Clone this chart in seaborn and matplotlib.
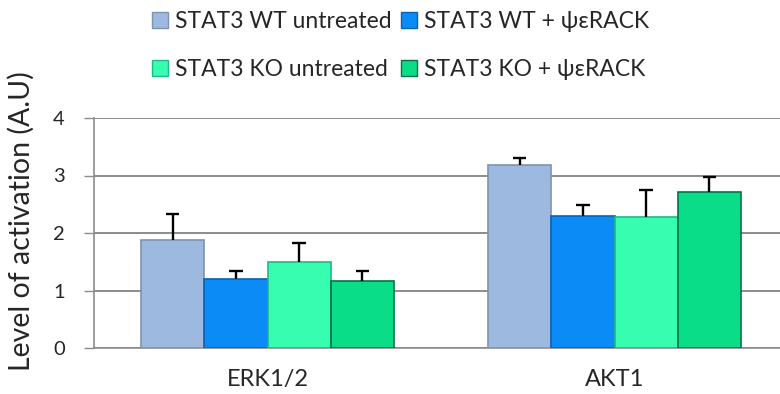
import matplotlib
matplotlib.use("Agg")
import matplotlib.pyplot as plt
import seaborn as sns
import pandas as pd
import numpy as np
from matplotlib.lines import Line2D

# Data
targets = ["ERK1/2", "AKT1"]
conditions = ["STAT3 WT untreated", "STAT3 WT + ψεRACK",
              "STAT3 KO untreated", "STAT3 KO + ψεRACK"]
erk_mean = [1.88, 1.20, 1.50, 1.17]
erk_err = [0.45, 0.14, 0.33, 0.17]
akt_mean = [3.18, 2.29, 2.27, 2.72]
akt_err = [0.12, 0.20, 0.47, 0.25]
yticks = [0, 1, 2, 3, 4]

colors = ["#9DB9E0", "#0A8BF6", "#36FDB0", "#0ADD87"]
edges = ["#7F93AE", "#0A63B0", "#22B886", "#06704A"]

rows = []
for i, c in enumerate(conditions):
    rows.append({"target": targets[0], "condition": c, "value": erk_mean[i], "err": erk_err[i]})
    rows.append({"target": targets[1], "condition": c, "value": akt_mean[i], "err": akt_err[i]})
df = pd.DataFrame(rows)

sns.set_style("white")
plt.rcParams["font.family"] = ["Lato", "DejaVu Sans"]

fig = plt.figure(figsize=(7.8, 3.94), dpi=100)
ax = fig.add_axes([94 / 780, 46 / 394, 694 / 780, 230 / 394])

sns.barplot(data=df, x="target", y="value", hue="condition", order=targets,
            hue_order=conditions, palette=colors, width=0.727, errorbar=None,
            legend=False, ax=ax, zorder=3, saturation=1)

# color edges per series and add upward-only error bars (stem + top cap)
cap_half = 0.019
bar_sets = list(ax.containers)
for k, cont in enumerate(bar_sets):
    for j, patch in enumerate(cont.patches):
        patch.set_edgecolor(edges[k])
        patch.set_linewidth(1.2)
        xc = patch.get_x() + patch.get_width() / 2
        h = patch.get_height()
        e = df[(df.condition == conditions[k]) & (df.target == targets[j])]["err"].iloc[0]
        ax.vlines(xc, h, h + e, color="black", linewidth=1.7, zorder=4)
        ax.hlines(h + e, xc - cap_half, xc + cap_half, color="black", linewidth=1.7, zorder=4)

ax.set_xlim(-0.5, 1.5)
ax.set_ylim(0, 4)
ax.set_yticks(yticks)
ax.set_yticklabels([str(t) for t in yticks], fontsize=14.5)
ax.yaxis.grid(True, color="#8C8C8C", linewidth=1.4, zorder=0)
ax.set_axisbelow(True)

ax.set_xticks([0, 1])
ax.set_xticklabels(targets, fontsize=17)
ax.set_xticks([-0.5, 0.5, 1.5], minor=True)
ax.tick_params(axis="x", which="major", length=0, pad=15)
ax.tick_params(axis="x", which="minor", length=7, width=1, color="#8C8C8C", direction="out")
ax.tick_params(axis="y", length=7, width=1, color="#8C8C8C", direction="out", pad=14, left=True)
ax.set_xlabel("")
ax.set_ylabel("Level of activation (A.U)", fontsize=20.5)
ax.yaxis.set_label_coords(-0.085, 0.55)

for s in ["top", "right"]:
    ax.spines[s].set_visible(False)
for s in ["left", "bottom"]:
    ax.spines[s].set_color("#8C8C8C")
    ax.spines[s].set_linewidth(1.2)

# legend: two rows, two columns
order = [0, 2, 1, 3]
handles = [Line2D([], [], marker="s", linestyle="none", markersize=11,
                  markerfacecolor=colors[i], markeredgecolor=edges[i]) for i in order]
labels = [conditions[i] for i in order]
fig.legend(handles, labels, ncol=2, loc="upper left", bbox_to_anchor=(150 / 780, 383 / 394),
           frameon=False, fontsize=16.5, handletextpad=0.2, columnspacing=0.3,
           labelspacing=1.2, handlelength=0.9, borderaxespad=0, borderpad=0)

fig.savefig("out.png", dpi=100)
